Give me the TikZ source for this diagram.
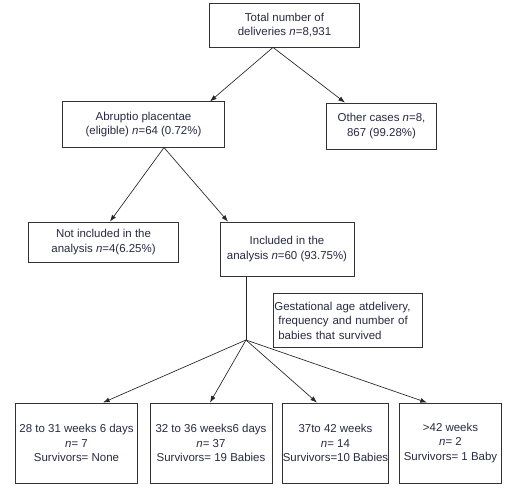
\documentclass[tikz,border=0pt]{standalone}
\usepackage{fontspec}
\setmainfont{Liberation Sans}
\usetikzlibrary{arrows.meta,calc}
\definecolor{inkcol}{rgb}{0.16,0.16,0.26}
\begin{document}
\begin{tikzpicture}[x=0.75pt,y=-0.75pt,
 font=\fontsize{8.6}{10.9}\selectfont,
 box/.style={draw=black!80,line width=0.6pt,text=inkcol,align=center,inner sep=1pt},
 link/.style={draw=black!85,line width=0.5pt,-{Latex[length=5pt,width=3.6pt]}}]
 \useasboundingbox (0,0) rectangle (518,488);
 \node[box,minimum width=113pt,minimum height=33pt] (total) at (284.5,25){Total number of\\deliveries \textit{n}=8,931};
 \node[box,minimum width=121pt,minimum height=34pt] (abrupt) at (143.5,124.5){Abruptio placentae\\(eligible) \textit{n}=64 (0.72\%)};
 \node[box,minimum width=82pt,minimum height=34.5pt] (other) at (381.5,126){Other cases \textit{n}=8,\\867 (99.28\%)};
 \node[box,minimum width=112pt,minimum height=30pt] (notinc) at (103.5,242){Not included in the\\analysis \textit{n}=4(6.25\%)};
 \node[box,minimum width=100.5pt,minimum height=40.5pt] (inc) at (287,249){Included in the\\analysis \textit{n}=60 (93.75\%)};
 \node[box,align=left,text width=109.75pt,minimum height=40pt] (gest) at (347.5,320.5){Gestational age atdelivery,\\\hspace*{3pt}frequency and number of\\\hspace*{3pt}babies that survived};
 \node[box,minimum width=91pt,minimum height=60pt] (b1) at (76.5,443){28 to 31 weeks 6 days\\\textit{n}= 7\\Survivors= None};
 \node[box,minimum width=91.5pt,minimum height=60pt] (b2) at (211,443){32 to 36 weeks6 days\\\textit{n}= 37\\Survivors= 19 Babies};
 \node[box,minimum width=79pt,minimum height=60pt,inner sep=0pt] (b3) at (335.5,443){37to 42 weeks\\\textit{n}= 14\\Survivors=10 Babies};
 \node[box,minimum width=76pt,minimum height=60pt] (b4) at (450.5,443){>42 weeks\\\textit{n}= 2\\Survivors= 1 Baby};
 \coordinate (split1) at ($(total.south)+(-11.5,0)$);
 \coordinate (split2) at ($(abrupt.south)+(20.5,0)$);
 \coordinate (fan) at (246,340);
 \draw[link] (split1)--($(abrupt.north)+(66.5,0)$);
 \draw[link] (split1)--($(other.north)+(-36.5,0)$);
 \draw[link] (split2)--($(notinc.north)+(6.5,0)$);
 \draw[link] (split2)--($(inc.north)+(-59,0)$);
 \draw[black!85,line width=0.5pt] ($(inc.south)+(-41,0)$)--(fan);
 \draw[link] (fan)--($(b1.north)+(26.5,0)$);
 \draw[link] (fan)--($(b2.north)+(-1,0)$);
 \draw[link] (fan)--($(b3.north)+(-18.5,0)$);
 \draw[link] (fan)--($(b4.north)+(-23.5,0)$);
\end{tikzpicture}
\end{document}
